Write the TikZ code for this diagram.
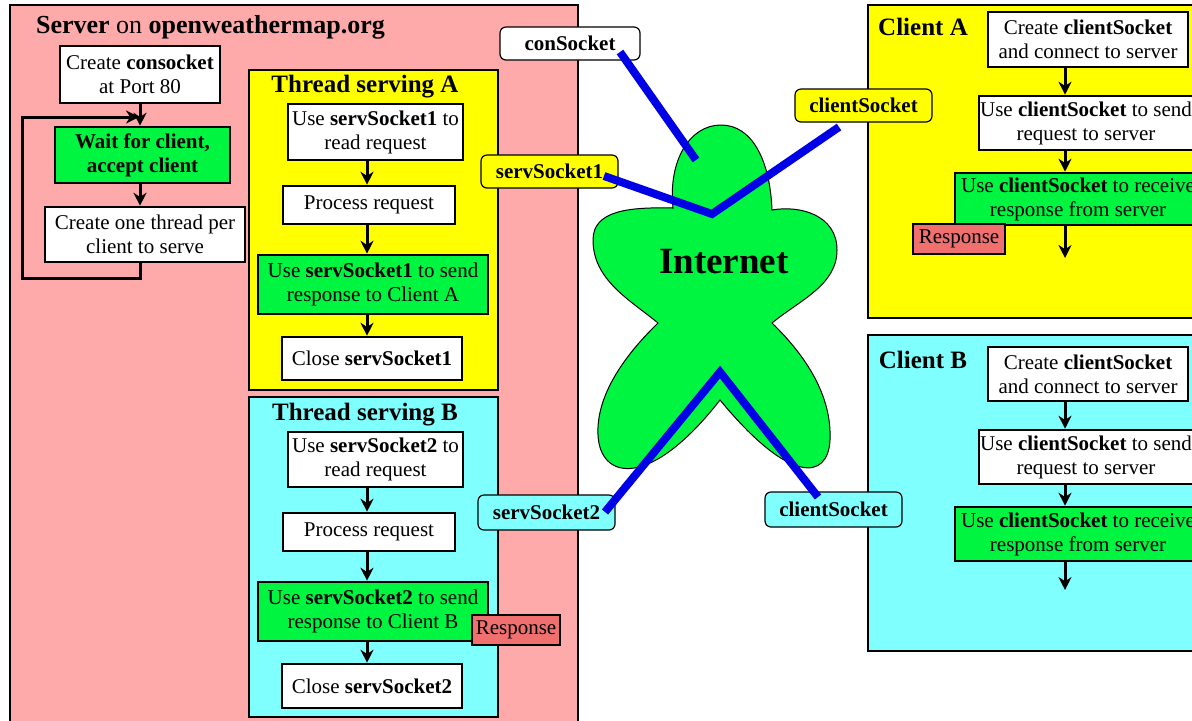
\documentclass[tikz,border=0pt]{standalone}
\usepackage{fontspec}
\setmainfont{Liberation Serif}
\usetikzlibrary{arrows.meta}
\definecolor{serverpink}{RGB}{255,170,170}
\definecolor{threadyellow}{RGB}{255,255,0}
\definecolor{threadcyan}{RGB}{128,255,255}
\definecolor{stepgreen}{RGB}{0,245,64}
\definecolor{respred}{RGB}{240,112,112}
\definecolor{linkblue}{RGB}{0,0,230}
\begin{document}
\begin{tikzpicture}[x=0.5pt,y=-0.5pt]
        \tikzstyle{area}=[draw=black,line width=1.2pt]
        \tikzstyle{stepbox}=[draw=black,line width=1.3pt,fill=white,align=center,inner sep=0pt,font=\fontsize{10.5}{12}\selectfont]
        \tikzstyle{greenbox}=[stepbox,fill=stepgreen]
        \tikzstyle{resp}=[draw=black,line width=1pt,fill=respred,inner sep=0pt,font=\fontsize{10.5}{12}\selectfont]
        \tikzstyle{socket}=[draw=black,line width=0.6pt,rounded corners=3pt,inner sep=0pt,font=\bfseries\fontsize{10.5}{12}\selectfont]
        \tikzstyle{title}=[font=\bfseries\fontsize{12.5}{14}\selectfont]
        \tikzstyle{edge}=[draw,line width=1.5pt,-{Stealth[length=6.5pt,width=6.5pt]}]
        \tikzstyle{link}=[draw=linkblue,line width=4pt]
        \useasboundingbox (0,0) rectangle (1192,720);
        \clip (0,0) rectangle (1192,720);
        % server side
        \draw[area,fill=serverpink] (10,5) rectangle (578,740);
        \node [anchor=west,font=\fontsize{13}{15}\selectfont] (srvtitle) at (29,27) {\textbf{Server} on \textbf{openweathermap.org}};
        \node [stepbox,minimum width=80pt,minimum height=28.5pt] (cs) at (140,74.5) {Create \textbf{consocket}\\at Port 80};
        \node [greenbox,minimum width=87.5pt,minimum height=28pt,font=\bfseries\fontsize{10.5}{12}\selectfont] (wait) at (142.5,155) {Wait for client,\\accept client};
        \node [stepbox,minimum width=100pt,minimum height=27.5pt] (thr) at (145,234.5) {Create one thread per\\client to serve};
        \coordinate (loopin) at (139,117);
        \path[edge] (cs.south) -- (cs.south |- wait.north);
        \path[edge] (cs.south |- wait.south) -- (cs.south |- thr.north);
        \path[edge] (cs.south |- thr.south) -- ++(0,15) -| (22,117) -- (loopin);
        % thread serving A
        \draw[area,fill=threadyellow] (249,70) rectangle (498,390);
        \node [title] (tA) at (365,87) {Thread serving A};
        \node [stepbox,minimum width=87.5pt,minimum height=28pt] (a1) at (375.5,132) {Use \textbf{servSocket1} to\\read request};
        \node [stepbox,minimum width=86pt,minimum height=19pt] (a2) at (369,205) {Process request};
        \node [greenbox,minimum width=115pt,minimum height=29.5pt] (a3) at (373,284.5) {Use \textbf{servSocket1} to send\\response to Client A};
        \node [stepbox,minimum width=90pt,minimum height=21.5pt] (a4) at (372,358.5) {Close \textbf{servSocket1}};
        \coordinate (axT) at (367,0);
        \path[edge] (axT |- a1.south) -- (axT |- a2.north);
        \path[edge] (axT |- a2.south) -- (axT |- a3.north);
        \path[edge] (axT |- a3.south) -- (axT |- a4.north);
        % thread serving B
        \draw[area,fill=threadcyan] (249,397) rectangle (498,717);
        \node [title] (tB) at (365,415) {Thread serving B};
        \node [stepbox,minimum width=87.5pt,minimum height=27.5pt] (b1) at (375.5,459.5) {Use \textbf{servSocket2} to\\read request};
        \node [stepbox,minimum width=86pt,minimum height=19pt] (b2) at (369,532) {Process request};
        \node [greenbox,minimum width=115pt,minimum height=29.5pt] (b3) at (373,611.5) {Use \textbf{servSocket2} to send\\response to Client B};
        \node [stepbox,minimum width=90pt,minimum height=22pt] (b4) at (372,686) {Close \textbf{servSocket2}};
        \node [resp,minimum width=44pt,minimum height=15pt] (respB) at (516,630) {Response};
        \path[edge] (axT |- b1.south) -- (axT |- b2.north);
        \path[edge] (axT |- b2.south) -- (axT |- b3.north);
        \path[edge] (axT |- b3.south) -- (axT |- b4.north);
        % client A
        \draw[area,fill=threadyellow] (868,5) rectangle (1210,318);
        \node [title] (cA) at (923,27) {Client A};
        \node [stepbox,minimum width=100pt,minimum height=27.5pt] (ca1) at (1088,39.5) {Create \textbf{clientSocket}\\and connect to server};
        \node [stepbox,minimum width=107pt,minimum height=27pt] (ca2) at (1086,123) {Use \textbf{clientSocket} to send\\request to server};
        \node [greenbox,minimum width=123pt,minimum height=26pt] (ca3) at (1078,199) {Use \textbf{clientSocket} to receive\\response from server};
        \node [resp,minimum width=46pt,minimum height=15pt] (respA) at (959,239) {Response};
        \coordinate (axC) at (1065,0);
        \coordinate (endA) at (1065,258);
        \path[edge] (axC |- ca1.south) -- (axC |- ca2.north);
        \path[edge] (axC |- ca2.south) -- (axC |- ca3.north);
        \path[edge] (axC |- ca3.south) -- (endA);
        % client B
        \draw[area,fill=threadcyan] (868,335) rectangle (1210,651);
        \node [title] (cB) at (923,360) {Client B};
        \node [stepbox,minimum width=100pt,minimum height=27pt] (cb1) at (1088,374) {Create \textbf{clientSocket}\\and connect to server};
        \node [stepbox,minimum width=107pt,minimum height=27pt] (cb2) at (1086,457) {Use \textbf{clientSocket} to send\\request to server};
        \node [greenbox,minimum width=123pt,minimum height=27pt] (cb3) at (1078,534) {Use \textbf{clientSocket} to receive\\response from server};
        \coordinate (endB) at (1065,590);
        \path[edge] (axC |- cb1.south) -- (axC |- cb2.north);
        \path[edge] (axC |- cb2.south) -- (axC |- cb3.north);
        \path[edge] (axC |- cb3.south) -- (endB);
        % internet
        \draw[fill=stepgreen,line width=0.5pt] (673,208) .. controls (668,160) and (690,125) .. (721,125)
              .. controls (752,125) and (770,160) .. (772,210)
              .. controls (800,205) and (837,215) .. (837,250)
              .. controls (837,285) and (800,300) .. (772,323)
              .. controls (805,355) and (832,395) .. (830,440)
              .. controls (828,480) and (790,485) .. (720,400)
              .. controls (650,490) and (600,480) .. (598,435)
              .. controls (596,395) and (625,355) .. (658,323)
              .. controls (630,300) and (593,280) .. (593,240)
              .. controls (593,210) and (630,207) .. cycle;
        \node [font=\bfseries\fontsize{18.5}{20}\selectfont] (inet) at (724,262) {Internet};
        % sockets
        \node [socket,fill=white,minimum width=70pt,minimum height=16.5pt] (lcon) at (570,43.5) {conSocket};
        \node [socket,fill=threadyellow,minimum width=68.5pt,minimum height=16.5pt] (ls1) at (549.5,171.5) {servSocket1};
        \node [socket,fill=threadyellow,minimum width=68.5pt,minimum height=16.5pt] (lcA) at (863.5,105.5) {clientSocket};
        \node [socket,fill=threadcyan,minimum width=68.5pt,minimum height=17.5pt] (ls2) at (546.5,512.5) {servSocket2};
        \node [socket,fill=threadcyan,minimum width=68.5pt,minimum height=17.5pt] (lcB) at (833.5,509.5) {clientSocket};
        \coordinate (pcon) at (620,52);
        \coordinate (pconend) at (696,160);
        \coordinate (hubA) at (712,214);
        \coordinate (ps1) at (604,176);
        \coordinate (pcA) at (839,127);
        \coordinate (hubB) at (720,372);
        \coordinate (ps2) at (605,512);
        \coordinate (pcB) at (818,497);
        \path[link] (pcon) -- (pconend);
        \path[link] (ps1) -- (hubA) -- (pcA);
        \path[link] (ps2) -- (hubB) -- (pcB);
\end{tikzpicture}
\end{document}
